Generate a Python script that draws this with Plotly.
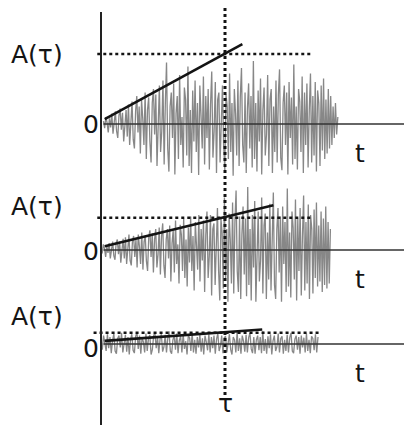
import numpy as np
import plotly.graph_objects as go

# ---------------- data ----------------
tau = 1.0
A_values = [1.0, 0.46, 0.16]          # A(tau) for each panel
line_end = [1.14, 1.39, 1.30]         # t where the solid A(t) line stops
dot_start = [-0.03, -0.03, -0.06]
dot_end = [1.71, 1.71, 1.77]          # t where the dotted A(tau) level stops
noise_start = [0.02, 0.0, 0.0]
noise_end = [1.91, 1.85, 1.75]
label_y = [1.0, 0.62, 0.39]           # vertical placement of the A(τ) labels
zero_label_y = [0.0, -0.02, -0.07]

noise1 = [0.04,-0.06,0.1,0.02,-0.12,0.08,-0.05,0.15,-0.14,0.06,
          0.18,-0.1,-0.2,0.12,0.22,-0.08,0.16,-0.25,0.05,0.2,
          -0.18,0.28,-0.3,0.1,0.32,-0.22,-0.35,0.18,0.4,-0.12,
          0.25,-0.42,0.35,0.08,-0.3,0.45,-0.5,0.2,0.38,-0.25,
          -0.55,0.3,0.5,-0.15,0.42,-0.6,0.22,0.55,-0.4,-0.1,
          0.62,-0.58,0.3,0.88,-0.35,-0.68,0.25,0.45,-0.2,0.58,
          -0.72,0.15,0.4,-0.5,0.7,-0.3,0.1,-0.62,0.52,0.35,
          -0.45,0.82,-0.6,0.2,-0.7,0.48,-0.25,0.62,-0.4,0.3,
          -0.73,0.55,0.12,-0.35,0.68,-0.58,0.4,-0.2,0.5,-0.65,
          0.28,0.75,-0.48,-0.1,0.6,-0.7,0.35,0.45,-0.55,0.2,
          0.55,-0.3,-0.66,0.42,0.25,-0.5,0.72,-0.4,0.3,-0.74,
          0.5,0.15,-0.45,0.62,-0.6,0.38,0.8,-0.3,-0.55,0.45,
          -0.7,0.22,0.58,-0.35,0.4,-0.62,0.9,-0.5,0.3,-0.68,
          0.48,-0.25,0.65,-0.72,0.2,0.52,-0.45,-0.15,0.7,-0.6,
          0.35,0.5,-0.7,0.25,-0.4,0.62,-0.55,0.42,0.78,-0.48,
          -0.66,0.3,0.55,-0.3,0.45,-0.72,0.6,-0.2,0.38,-0.58,
          0.85,-0.5,0.25,-0.65,0.5,0.32,-0.4,0.68,-0.7,0.45,
          -0.3,0.58,-0.62,0.2,0.72,-0.55,0.4,-0.45,0.6,-0.68,
          0.48,0.3,-0.6,0.55,-0.38,0.65,-0.5,0.35,-0.42,0.5,
          -0.35,0.4,-0.3,0.25,-0.2,0.3,-0.15,0.1]

noise2 = [0.03,-0.05,0.08,0.02,-0.1,0.06,-0.04,0.1,-0.12,0.05,
          0.12,-0.08,-0.14,0.1,0.15,-0.06,0.12,-0.18,0.04,0.16,
          -0.12,0.18,-0.2,0.08,0.22,-0.15,-0.22,0.12,0.2,-0.1,
          0.15,-0.25,0.22,0.05,-0.2,0.25,-0.28,0.12,0.2,-0.16,
          -0.3,0.18,0.28,-0.1,0.24,-0.32,0.15,0.3,-0.25,-0.06,
          0.32,-0.35,0.2,0.38,-0.22,-0.4,0.15,0.3,-0.12,0.35,
          -0.45,0.1,0.28,-0.32,0.42,-0.2,0.08,-0.48,0.36,0.22,
          -0.3,0.45,-0.4,0.15,-0.52,0.32,-0.18,0.48,-0.3,0.2,
          -0.58,0.4,0.1,-0.28,0.5,-0.45,0.3,-0.15,0.42,-0.6,
          0.22,0.55,-0.4,-0.08,0.5,-0.65,0.3,0.38,-0.5,0.18,
          0.6,-0.3,-0.72,0.45,0.25,-0.55,0.75,-0.4,0.3,-0.74,
          0.52,0.15,-0.48,0.68,-0.62,0.4,0.85,-0.3,-0.6,0.48,
          -0.7,0.22,0.62,-0.35,0.45,-0.66,0.9,-0.5,0.3,-0.72,
          0.5,-0.25,0.7,-0.74,0.2,0.55,-0.45,-0.15,0.75,-0.62,
          0.35,0.52,-0.7,0.25,-0.42,0.66,-0.58,0.42,0.82,-0.5,
          -0.7,0.3,0.6,-0.32,0.48,-0.74,0.62,-0.2,0.4,-0.6,
          0.88,-0.52,0.25,-0.68,0.55,0.32,-0.42,0.72,-0.72,0.45,
          -0.3,0.6,-0.65,0.2,0.78,-0.58,0.4,-0.48,0.65,-0.7,
          0.5,0.3,-0.62,0.58,-0.4,0.68,-0.52,0.35,-0.45,0.55,
          -0.6,0.45,-0.5,0.62,-0.55,0.4,-0.48,0.3]

noise3 = [0.06,-0.08,0.12,0.03,-0.1,0.14,-0.06,0.1,-0.13,0.05,
          0.15,-0.1,-0.14,0.08,0.12,-0.05,0.16,-0.12,0.04,0.13,
          -0.11,0.1,-0.15,0.06,0.14,-0.09,-0.13,0.11,0.17,-0.07,
          0.12,-0.14,0.09,0.03,-0.12,0.15,-0.1,0.08,0.13,-0.15,
          -0.08,0.12,0.16,-0.06,0.1,-0.13,0.07,0.14,-0.11,-0.04,
          0.13,-0.12,0.08,0.18,-0.1,-0.14,0.06,0.12,-0.08,0.15,
          -0.13,0.05,0.11,-0.12,0.14,-0.07,0.04,-0.15,0.12,0.09,
          -0.1,0.16,-0.12,0.06,-0.14,0.1,-0.05,0.13,-0.11,0.08,
          -0.15,0.12,0.03,-0.09,0.14,-0.12,0.1,-0.06,0.12,-0.14,
          0.07,0.15,-0.1,-0.03,0.12,-0.13,0.09,0.11,-0.12,0.05,
          0.14,-0.08,-0.15,0.1,0.06,-0.12,0.17,-0.1,0.08,-0.14,
          0.12,0.04,-0.11,0.13,-0.12,0.09,0.16,-0.07,-0.13,0.1,
          -0.14,0.06,0.12,-0.09,0.1,-0.13,0.18,-0.1,0.07,-0.14,
          0.11,-0.06,0.14,-0.15,0.05,0.12,-0.1,-0.04,0.15,-0.12,
          0.08,0.11,-0.14,0.06,-0.1,0.13,-0.12,0.09,0.16,-0.1,
          -0.13,0.07,0.12,-0.08,0.1,-0.14,0.12,-0.05,0.09,-0.12,
          0.15,-0.1,0.06,-0.13,0.11,0.08,-0.09,0.14,-0.12,0.1]

noises = [noise1, noise2, noise3]
axis_label = "A(τ)"
time_label = "t"
tau_label = "τ"
zero_label = "0"

# ---------------- layout geometry (pixels) ----------------
W, H = 404, 431
ORIGIN_PX = 101
PX_PER_T = 124
PX_PER_A = 70
baselines_px = [124, 250, 344]
domains_px = [(0, 195), (180, 322), (300, 431)]

FONT = "DejaVu Sans, Verdana, sans-serif"
INK = "#141414"

fig = go.Figure()
x_range = [-ORIGIN_PX / PX_PER_T, (W - ORIGIN_PX) / PX_PER_T]

layout_axes = {}
for i in range(3):
    top, bot = domains_px[i]
    base = baselines_px[i]
    name = "yaxis" if i == 0 else f"yaxis{i+1}"
    layout_axes[name] = dict(
        domain=[1 - bot / H, 1 - top / H],
        range=[-(bot - base) / PX_PER_A, (base - top) / PX_PER_A],
        visible=False, fixedrange=True, anchor="x",
    )

for i in range(3):
    yref = "y" if i == 0 else f"y{i+1}"
    vals = noises[i]
    t = np.linspace(noise_start[i], noise_end[i], len(vals))
    # noise trace
    fig.add_trace(go.Scatter(x=t, y=vals, mode="lines", yaxis=yref,
                             line=dict(color="rgba(95,95,95,0.75)", width=1.3),
                             hoverinfo="skip", showlegend=False))
    # baseline (time axis)
    fig.add_trace(go.Scatter(x=[0.02, x_range[1]], y=[0, 0], mode="lines", yaxis=yref,
                             line=dict(color="#333333", width=1.5),
                             hoverinfo="skip", showlegend=False))
    # dotted A(tau) level
    fig.add_trace(go.Scatter(x=[dot_start[i], dot_end[i]],
                             y=[A_values[i], A_values[i]], mode="lines", yaxis=yref,
                             line=dict(color=INK, width=2.5, dash="3px,3px"),
                             hoverinfo="skip", showlegend=False))
    # solid A(t) line through origin and (tau, A(tau))
    slope = A_values[i] / tau
    fig.add_trace(go.Scatter(x=[0.03, line_end[i]],
                             y=[slope * 0.03 + 0.04, slope * line_end[i]],
                             mode="lines", yaxis=yref,
                             line=dict(color=INK, width=2.6),
                             hoverinfo="skip", showlegend=False))
    fig.add_annotation(x=-0.52, y=label_y[i], xref="x", yref=yref, text=axis_label,
                       showarrow=False, font=dict(family=FONT, size=25, color=INK))
    fig.add_annotation(x=-0.08, y=zero_label_y[i], xref="x", yref=yref, text=zero_label,
                       showarrow=False, font=dict(family=FONT, size=25, color=INK))
    fig.add_annotation(x=2.09, y=-0.42, xref="x", yref=yref, text=time_label,
                       showarrow=False, font=dict(family=FONT, size=25, color=INK))

# vertical axis line and dotted tau line
fig.add_shape(type="line", xref="x", yref="paper", x0=0, x1=0,
              y0=1 - 425 / H, y1=1 - 12 / H, line=dict(color="#222222", width=2))
fig.add_shape(type="line", xref="x", yref="paper", x0=tau, x1=tau,
              y0=1 - 395 / H, y1=1 - 8 / H, line=dict(color=INK, width=3, dash="3px,3px"))
fig.add_annotation(x=tau, y=1 - 420 / H, xref="x", yref="paper", text=tau_label,
                   showarrow=False, font=dict(family=FONT, size=25, color=INK))

fig.update_layout(
    width=W, height=H,
    margin=dict(l=0, r=0, t=0, b=0),
    paper_bgcolor="white", plot_bgcolor="white",
    xaxis=dict(range=x_range, visible=False, fixedrange=True),
    showlegend=False,
    **layout_axes,
)

fig.write_html("out.html", config={"displayModeBar": False})
